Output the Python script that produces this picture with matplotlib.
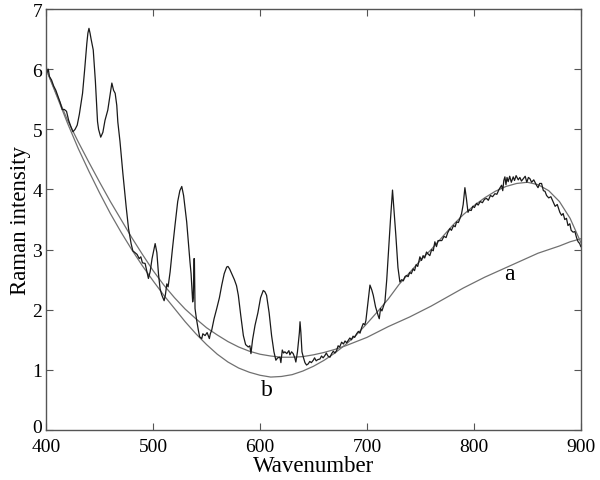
import matplotlib
matplotlib.use("Agg")
import matplotlib.pyplot as plt
from matplotlib.transforms import ScaledTranslation

# measured spectrum (wavenumber, intensity)
spec_x = [400, 401, 402, 403, 405, 407, 409, 411, 413, 415, 417, 419, 421, 423, 425, 427, 429, 431, 434, 436,
          438, 439, 440, 441, 442, 444, 446, 448, 449, 451, 453, 455, 457.6, 460, 461.4, 463, 464.5, 466, 467, 469,
          471.7, 474.8, 477, 479.4, 481, 483, 485, 487, 488.5, 490, 492.5, 494, 495.6, 497.2, 499, 501.9, 503.5, 505, 506.5, 508,
          510.3, 511.5, 512.8, 514, 515.9, 518, 520.5, 523, 525, 526.8, 528.5, 531.4, 534.5, 535.5, 537, 537.6, 538.2, 538.6, 539.2, 540.5,
          542.3, 543.5, 545.5, 546.5, 548.6, 550.5, 552.6, 553.5, 554.8, 557, 559.5, 562, 564.2, 566.5, 568.8, 570, 571.5, 573.5, 576, 578,
          579.7, 582, 584.4, 586.5, 589, 590.5, 591.5, 593, 595.3, 598, 600.5, 603, 604.5, 606.1, 608.5, 610.8, 613, 614.8, 616.5, 618.6,
          619.5, 620.8, 622, 623.2, 625, 627, 627.9, 629.5, 631, 632.5, 633.5, 635, 636.8, 637.4, 638.2, 639.2, 640.5, 642, 643.5, 645.1,
          646.5, 648, 649.8, 651, 652.5, 654, 656, 657.5, 659, 660.7, 662, 663.5, 665.4, 667, 668.5, 670, 671.6, 673, 674.5, 676.3,
          678, 679.5, 681, 682.5, 684, 685.5, 687, 688.5, 690.3, 692, 693.5, 695, 696.5, 698, 699, 700.5, 702.8, 704.5, 705.9, 708,
          710.5, 711.5, 712.7, 714, 716.8, 718.5, 719.9, 722, 723.9, 725.5, 727, 729, 730.8, 732.5, 734, 735.5, 737, 738.5, 740, 741.5,
          743.2, 744.5, 746, 747.5, 749.5, 751, 752.5, 754, 755.7, 757, 758.8, 760.5, 762, 763.5, 765, 766.5, 768.2, 770, 772, 774,
          775.5, 777.6, 779, 781, 782.5, 783.8, 785.5, 787, 788.5, 790, 791.6, 793, 794.5, 795.6, 797.5, 799, 800.5, 802.5, 804, 806,
          808, 810, 811.9, 813.5, 815.5, 817.5, 819.7, 821.5, 823.5, 825.9, 827, 828, 829, 830, 831, 832.1, 833.5, 835, 836.8, 838,
          839.5, 841.5, 843, 844.5, 846.2, 848, 849.5, 851, 852.4, 854, 856, 858.6, 860, 861.5, 863.3, 865, 866.5, 868, 870, 872,
          874.2, 876, 878, 880.4, 882, 883.5, 885, 886.6, 888, 889.7, 891, 892.8, 894.5, 896, 897.5, 899, 900]
spec_y = [6.05, 5.95, 6.0, 5.88, 5.82, 5.72, 5.65, 5.55, 5.45, 5.33, 5.33, 5.30, 5.15, 5.05, 4.96, 5.0, 5.07, 5.25, 5.6, 6.0,
          6.43, 6.6, 6.68, 6.6, 6.5, 6.32, 5.8, 5.13, 5.0, 4.87, 4.95, 5.15, 5.32, 5.6, 5.77, 5.65, 5.6, 5.4, 5.12, 4.8,
          4.27, 3.71, 3.35, 3.1, 2.98, 2.95, 2.92, 2.85, 2.88, 2.78, 2.77, 2.65, 2.52, 2.63, 2.85, 3.1, 2.95, 2.6, 2.35, 2.25,
          2.15, 2.25, 2.43, 2.38, 2.63, 3.0, 3.41, 3.8, 3.98, 4.05, 3.9, 3.46, 2.79, 2.6, 2.13, 2.2, 2.85, 2.85, 2.02, 1.85,
          1.66, 1.55, 1.52, 1.6, 1.57, 1.62, 1.52, 1.6, 1.66, 1.85, 2.02, 2.2, 2.41, 2.6, 2.71, 2.72, 2.68, 2.6, 2.5, 2.4,
          2.24, 1.9, 1.57, 1.42, 1.38, 1.4, 1.27, 1.5, 1.74, 1.95, 2.2, 2.32, 2.3, 2.24, 1.95, 1.57, 1.3, 1.16, 1.2, 1.21,
          1.12, 1.33, 1.28, 1.3, 1.27, 1.32, 1.25, 1.3, 1.27, 1.2, 1.13, 1.3, 1.62, 1.8, 1.62, 1.3, 1.21, 1.12, 1.08, 1.1,
          1.14, 1.12, 1.16, 1.2, 1.15, 1.17, 1.18, 1.23, 1.2, 1.24, 1.28, 1.23, 1.21, 1.27, 1.31, 1.28, 1.32, 1.4, 1.38, 1.46,
          1.43, 1.48, 1.45, 1.49, 1.53, 1.5, 1.56, 1.54, 1.6, 1.64, 1.61, 1.7, 1.77, 1.75, 1.82, 2.05, 2.41, 2.33, 2.24, 2.05,
          1.9, 1.85, 2.02, 1.98, 2.13, 2.5, 2.9, 3.5, 3.99, 3.6, 3.24, 2.7, 2.46, 2.5, 2.48, 2.55, 2.57, 2.55, 2.62, 2.6,
          2.68, 2.65, 2.75, 2.72, 2.88, 2.82, 2.9, 2.86, 2.96, 2.93, 2.9, 3.0, 2.98, 3.13, 3.05, 3.15, 3.15, 3.15, 3.22, 3.2,
          3.28, 3.35, 3.32, 3.4, 3.38, 3.46, 3.45, 3.52, 3.6, 3.75, 4.03, 3.85, 3.62, 3.66, 3.65, 3.72, 3.7, 3.77, 3.74, 3.8,
          3.78, 3.84, 3.85, 3.82, 3.9, 3.88, 3.93, 3.92, 4.0, 4.07, 3.98, 4.15, 4.21, 4.08, 4.2, 4.13, 4.22, 4.12, 4.21, 4.15,
          4.23, 4.16, 4.2, 4.14, 4.18, 4.22, 4.12, 4.2, 4.18, 4.12, 4.16, 4.07, 4.03, 4.1, 4.1, 3.98, 3.97, 3.9, 3.86, 3.88,
          3.79, 3.72, 3.75, 3.62, 3.57, 3.6, 3.5, 3.52, 3.4, 3.43, 3.32, 3.29, 3.3, 3.2, 3.13, 3.1, 3.05]

# two baseline fits, read every 10 units
fit_x = [400, 410, 420, 430, 440, 450, 460, 470, 480, 490, 500, 510, 520, 530, 540, 550, 560, 570, 580, 590,
         600, 610, 620, 630, 640, 650, 660, 670, 680, 690, 700, 710, 720, 730, 740, 750, 760, 770, 780, 790,
         800, 810, 820, 830, 840, 850, 860, 870, 880, 890, 900]
fit_a = [6.0, 5.57, 5.15, 4.79, 4.45, 4.12, 3.8, 3.5, 3.2, 2.92, 2.65, 2.41, 2.2, 2.01, 1.85, 1.7, 1.58, 1.47, 1.38, 1.31,
         1.26, 1.23, 1.21, 1.21, 1.22, 1.25, 1.29, 1.34, 1.40, 1.47, 1.54, 1.63, 1.72, 1.80, 1.88, 1.97, 2.06, 2.16, 2.26, 2.36,
         2.45, 2.54, 2.62, 2.70, 2.78, 2.86, 2.94, 3.00, 3.06, 3.13, 3.18]
fit_b = [6.0, 5.55, 5.1, 4.68, 4.3, 3.94, 3.6, 3.29, 3.0, 2.73, 2.48, 2.24, 2.02, 1.8, 1.6, 1.42, 1.26, 1.13, 1.03, 0.96,
         0.91, 0.88, 0.89, 0.92, 0.98, 1.06, 1.16, 1.28, 1.42, 1.58, 1.77, 1.97, 2.18, 2.42, 2.62, 2.82, 3.0, 3.2, 3.4, 3.58,
         3.73, 3.86, 3.97, 4.05, 4.1, 4.12, 4.08, 3.98, 3.8, 3.52, 3.12]

plt.rcParams['font.family'] = ['Liberation Serif', 'DejaVu Serif']
plt.rcParams['font.size'] = 14

fig = plt.figure(figsize=(6, 4.81), dpi=100)
ax = fig.add_axes([0.077, 0.104, 0.891, 0.875])

ax.plot(fit_x, fit_a, color='#707070', lw=0.9)
ax.plot(fit_x, fit_b, color='#707070', lw=0.9)
ax.plot(spec_x, spec_y, color='#1a1a1a', lw=0.9)

ax.text(833, 2.6, 'a', ha='center', va='center', fontsize=17)
ax.text(606, 0.68, 'b', ha='center', va='center', fontsize=17)

ax.set_xlim(400, 900)
ax.set_ylim(0, 7)
ax.set_xticks([400, 500, 600, 700, 800, 900])
ax.set_yticks(range(0, 8))
ax.tick_params(direction='in', length=5, width=0.8, color='#555555', top=True, right=True)
ax.tick_params(axis='x', pad=6)
ax.tick_params(axis='y', pad=3)
for s in ax.spines.values():
    s.set_color('#555555')
    s.set_linewidth(1.0)

# lift the "0" a little so it clears the "400" below it
lab0 = ax.get_yticklabels()[0]
lab0.set_transform(lab0.get_transform() + ScaledTranslation(0, 3 / 72, fig.dpi_scale_trans))

ax.set_xlabel('Wavenumber', fontsize=16.5, labelpad=0)
ax.set_ylabel('Raman intensity', fontsize=16.5, labelpad=1)

fig.savefig('out.png', dpi=100)
